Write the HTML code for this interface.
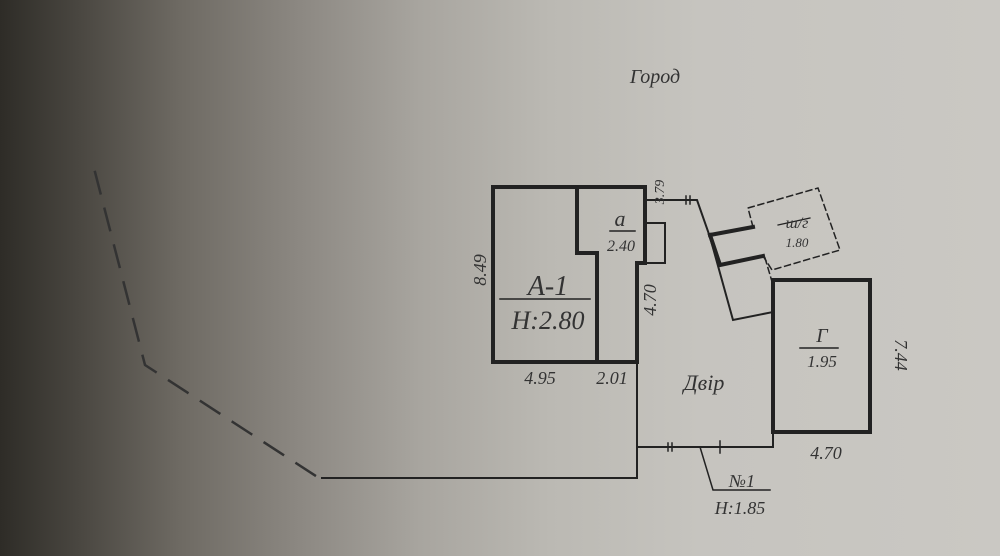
<!DOCTYPE html>
<html><head><meta charset="utf-8"><style>
html,body{margin:0;padding:0}
body{width:1000px;height:556px;overflow:hidden;background:linear-gradient(90deg,#2e2c27 0%,#4a4741 8%,#6e6a63 18%,#8c8882 30%,#a8a59f 42%,#bbb9b3 55%,#c6c4bf 70%,#cac8c3 100%)}
svg{position:absolute;left:0;top:0}
text{font-family:"Liberation Serif",serif;font-style:italic;fill:#333}
</style></head><body>
<svg width="1000" height="556" viewBox="0 0 1000 556">
<g fill="none" stroke="#222" stroke-linecap="square">
<!-- dashed left boundary -->
<polyline points="95,172 145,365 322,480" stroke-width="2.5" stroke-dasharray="22,16" stroke="#333"/>
<!-- fence -->
<polyline points="322,478 637,478 637,362" stroke-width="2"/>
<polyline points="637,447 773,447 773,432" stroke-width="2"/>
<!-- A-1 and a -->
<path d="M493,187 H645 V263 H637 V362 H493 Z" stroke-width="4"/>
<path d="M577,187 V253 H597 V362" stroke-width="4"/>
<path d="M645,223 H665 V263 H645" stroke-width="2"/>
<!-- top fence & tilted -->
<polyline points="645,200 697,200 710,237 733,320 773,312" stroke-width="2"/>
<polyline points="710,235 753,227" stroke-width="4"/>
<polyline points="710,235 720,265 763,256" stroke-width="4"/>
<polyline points="753,227 748,208 818,188 840,250 772,270 763,256" stroke-width="1.5" stroke-dasharray="6,4"/>
<polyline points="765,258 773,285" stroke-width="1.5" stroke-dasharray="6,4"/>
<!-- Г -->
<rect x="773" y="280" width="97" height="152" stroke-width="4"/>
<!-- №1 leader -->
<polyline points="700,447 713,490 770,490" stroke-width="1.5"/>
<line x1="500" y1="299" x2="590" y2="299" stroke-width="1.5"/>
<line x1="610" y1="231" x2="635" y2="231" stroke-width="1.5"/>
<line x1="800" y1="348" x2="838" y2="348" stroke-width="1.5"/>
<line x1="778" y1="225" x2="810" y2="218" stroke-width="1.2"/>
<!-- ticks -->
<g stroke-width="1.5">
<line x1="668" y1="443" x2="668" y2="451"/><line x1="672" y1="443" x2="672" y2="451"/>
<line x1="720" y1="441" x2="720" y2="453"/>
<line x1="686" y1="196" x2="686" y2="204"/><line x1="690" y1="196" x2="690" y2="204"/>
</g>
</g>
<text x="655" y="83" font-size="20" text-anchor="middle">Город</text>
<text x="548" y="295" font-size="28" text-anchor="middle">А-1</text>
<text x="548" y="329" font-size="26" text-anchor="middle">Н:2.80</text>
<text x="620" y="226" font-size="22" text-anchor="middle">а</text>
<text x="621" y="251" font-size="16" text-anchor="middle">2.40</text>
<text x="797" y="228" font-size="16" text-anchor="middle">ш/г</text>
<text x="797" y="247" font-size="13" text-anchor="middle">1.80</text>
<text x="822" y="342" font-size="20" text-anchor="middle">Г</text>
<text x="822" y="367" font-size="17" text-anchor="middle">1.95</text>
<text x="704" y="390" font-size="22" text-anchor="middle">Двір</text>
<text x="540" y="384" font-size="18" text-anchor="middle">4.95</text>
<text x="612" y="384" font-size="18" text-anchor="middle">2.01</text>
<text x="826" y="459" font-size="18" text-anchor="middle">4.70</text>
<text x="742" y="487" font-size="18" text-anchor="middle">№1</text>
<text x="740" y="514" font-size="18" text-anchor="middle">Н:1.85</text>
<text transform="translate(486,270) rotate(-90)" font-size="18" text-anchor="middle">8.49</text>
<text transform="translate(656,300) rotate(-90)" font-size="18" text-anchor="middle">4.70</text>
<text transform="translate(664,192) rotate(-90)" font-size="14" text-anchor="middle">3.79</text>
<text transform="translate(895,355) rotate(90)" font-size="18" text-anchor="middle">7.44</text>
</svg>
</body></html>
